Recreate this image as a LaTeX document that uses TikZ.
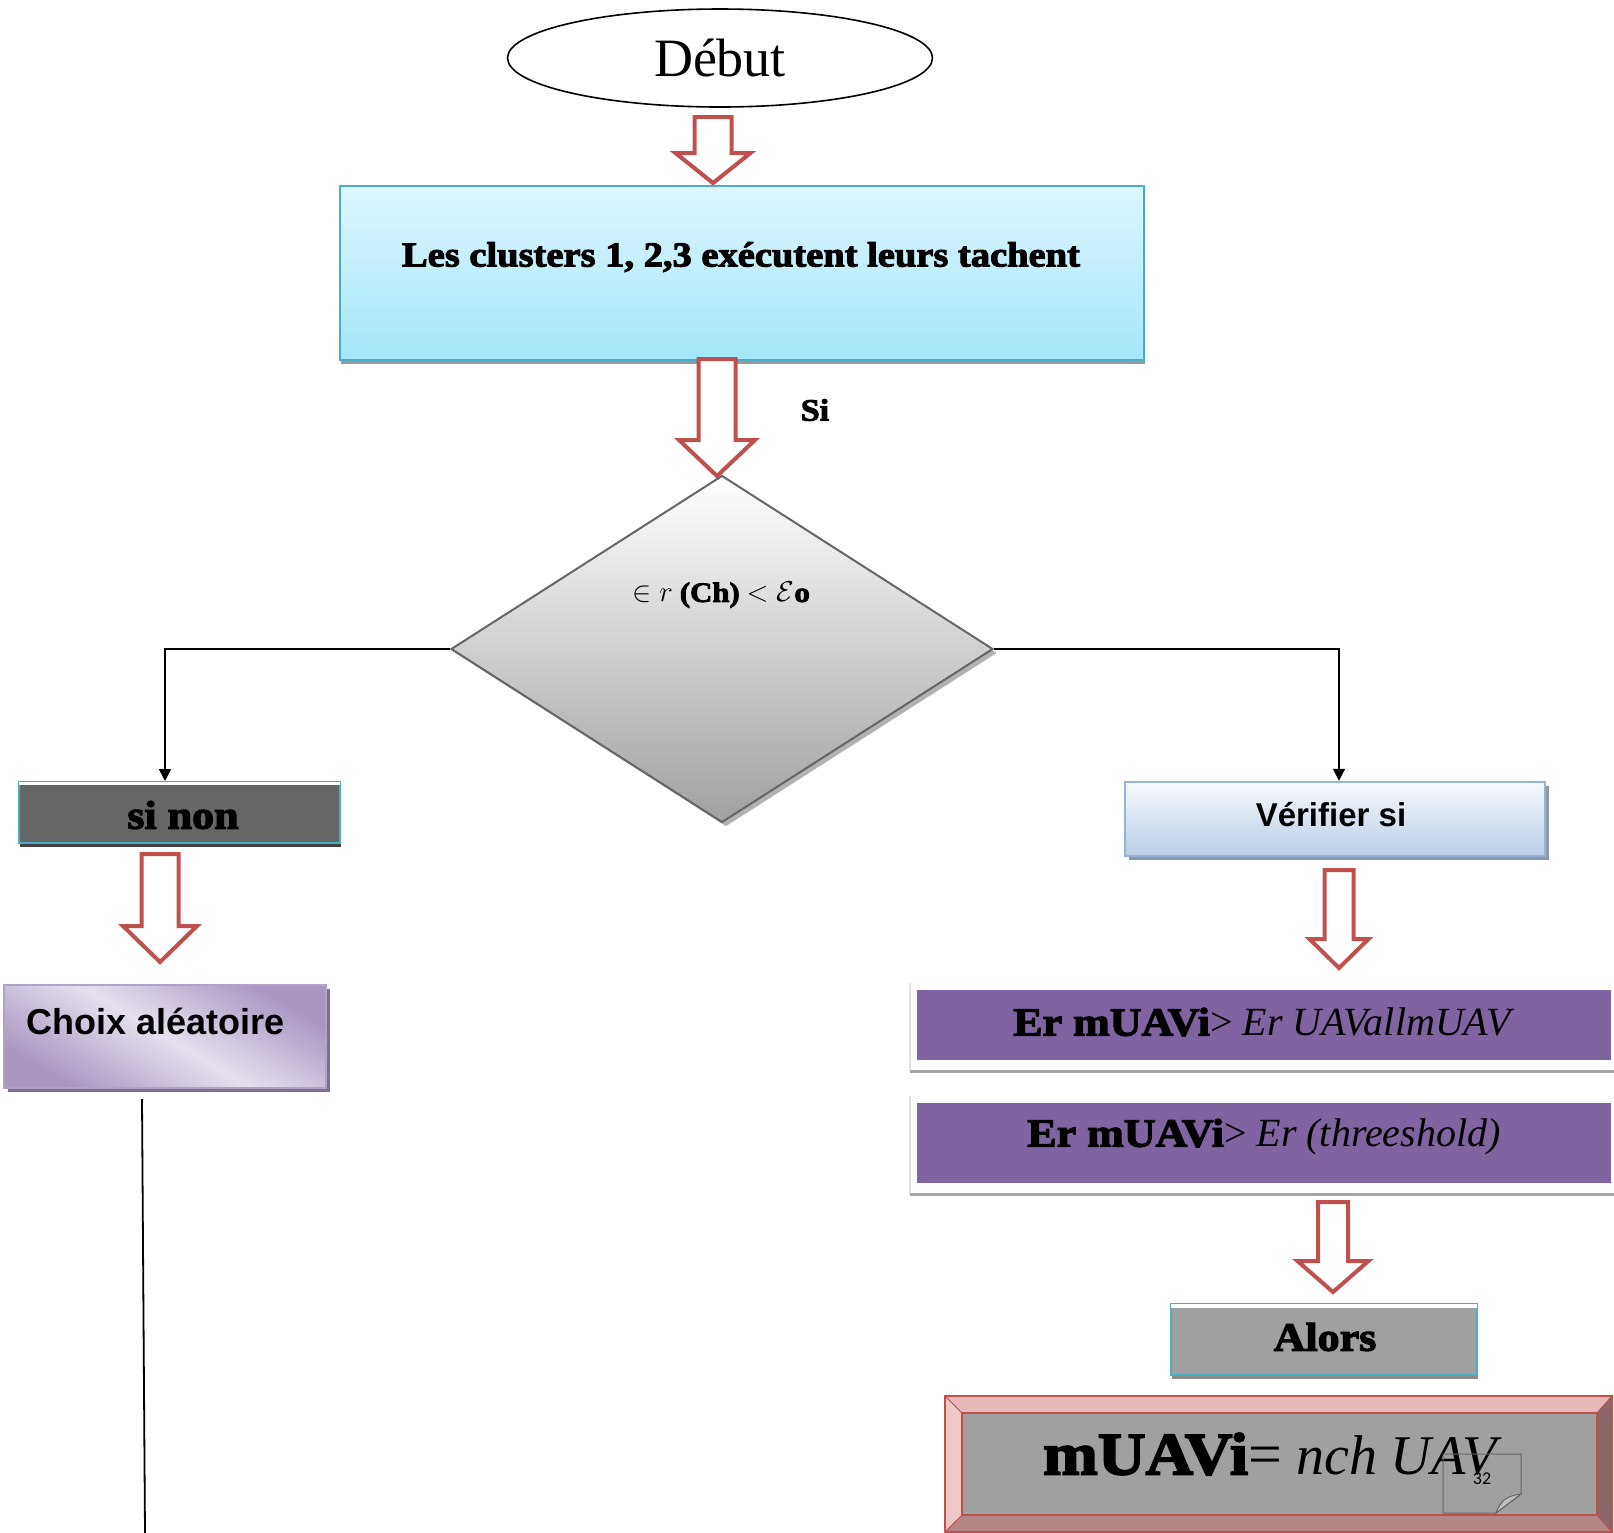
\documentclass[tikz,border=0pt]{standalone}
\usepackage{fontspec}
\usetikzlibrary{shapes.geometric,shadows,arrows.meta,calc}
\setmainfont{Liberation Serif}
\newfontfamily\cooper[FakeBold=3,FakeStretch=1.1]{Liberation Serif Bold}
\newfontfamily\arialb{Liberation Sans Bold}
\newfontfamily\mitfont{Liberation Serif Italic}
\newfontfamily\calib{Carlito}
\definecolor{redA}{HTML}{C0504D}
\definecolor{tealB}{HTML}{4BACC6}
\definecolor{cyanT}{HTML}{DDF6FD}
\definecolor{cyanB}{HTML}{A3E7FA}
\definecolor{purp}{HTML}{8064A2}
\definecolor{lav}{HTML}{A895C0}
\definecolor{lavB}{HTML}{B3A2C7}
\definecolor{lavL}{HTML}{E6E0EE}
\definecolor{blueB}{HTML}{95B3D7}
\definecolor{blueT}{HTML}{F7F9FC}
\definecolor{blueF}{HTML}{B9CDE5}
\definecolor{grayF}{HTML}{A0A0A0}
\definecolor{darkF}{HTML}{666666}
\definecolor{pinkT}{HTML}{E6B9B8}
\definecolor{pinkL}{HTML}{EDC8C7}
\definecolor{brownR}{HTML}{8B6767}
\definecolor{brownB}{HTML}{B38584}
\newcommand{\blockarr}[6]{\draw[barrow] ({#1-#3},#2) -- ({#1+#3},#2) -- ({#1+#3},#5) -- ({#1+#4},#5) -- (#1,#6) -- ({#1-#4},#5) -- ({#1-#3},#5) -- cycle;}
\begin{document}
\begin{tikzpicture}[x=0.5pt,y=-0.5pt,
  barrow/.style={draw=redA,line width=2pt,fill=white,line join=miter},
  conn/.style={draw=black,line width=0.9pt,-{Triangle[width=6pt,length=6pt]}},
  box/.style={rectangle,inner sep=0pt},
  plain/.style={inner sep=0pt}]
\useasboundingbox (0,0) rectangle (1614,1533);

% Debut
\node[ellipse,draw,line width=0.8pt,minimum width=212.5pt,minimum height=49pt,inner sep=0pt] (debut) at (720,58) {\fontsize{27}{30}\selectfont Début};
\blockarr{713}{117}{18.5}{37.5}{153}{183}

% clusters
\node[box,draw=tealB,line width=1pt,top color=cyanT,bottom color=cyanB,minimum width=402pt,minimum height=87pt,
  drop shadow={shadow xshift=0.5pt,shadow yshift=-2pt,fill=black!40,opacity=1}] (clusters) at (742,273) {};
\node[plain] (clusterstxt) at (741,257) {\cooper\fontsize{17.5}{20}\selectfont Les clusters 1, 2,3 exécutent leurs tachent};
\blockarr{717}{359}{18.5}{38}{440}{476}
\node[plain] (si) at (815,410) {\cooper\fontsize{15.5}{18}\selectfont Si};

% diamond
\node[diamond,draw=black!60,line width=1pt,top color=white,bottom color=grayF,minimum width=271pt,minimum height=173.5pt,inner sep=0pt,
  drop shadow={shadow xshift=2pt,shadow yshift=-2pt,fill=black!30,opacity=1}] (dia) at (722,649) {};
\node[plain] (diatxt) at (721,595) {\fontsize{14}{16}\selectfont $\in r$ {\cooper (Ch)} $<\mathcal{E}${\cooper o}};

% si non
\node[box,draw=tealB,line width=1pt,fill=darkF,minimum width=160.5pt,minimum height=30.5pt,
  drop shadow={shadow xshift=0.5pt,shadow yshift=-2pt,fill=black!75,opacity=1}] (sinon) at (179.5,812.5) {};
\fill[white] ([xshift=0.5pt,yshift=-0.5pt]sinon.north west) rectangle ([xshift=-0.5pt,yshift=-2pt]sinon.north east);
\node[plain] (sinontxt) at (183,815) {\cooper\fontsize{20}{23}\selectfont si non};
\blockarr{160}{854}{18.5}{37}{926}{962}

% choix
\node[box,draw=lavB,line width=0.8pt,left color=lav,right color=lav,middle color=lavL,shading angle=-31,minimum width=161pt,minimum height=51.5pt,
  drop shadow={shadow xshift=2pt,shadow yshift=-2pt,fill=lavB!70!black,opacity=1}] (choix) at (165,1036.5) {};
\node[plain] (choixtxt) at (156,1021) {\arialb\fontsize{18}{21}\selectfont Choix aléatoire};
\coordinate (c1) at (142,1099);
\coordinate (c2) at (145,1533);
\draw[line width=0.9pt] (c1) -- (c2);

% verifier
\node[box,draw=blueB,line width=1.2pt,top color=blueT,bottom color=blueF,minimum width=210pt,minimum height=37pt,
  drop shadow={shadow xshift=2pt,shadow yshift=-2pt,fill=blueB!60!black!70,opacity=1}] (verif) at (1335,819) {};
\node[plain] (veriftxt) at (1331,815) {\arialb\fontsize{16.5}{19}\selectfont Vérifier si};
\blockarr{1339}{870}{14.5}{29.5}{939}{968}

% connectors
\draw[conn] (dia.west) -| ([xshift=-7.25pt]sinon.north);
\draw[conn] (dia.east) -| ([xshift=2pt]verif.north);

% purple boxes
\draw[black!12,line width=0.6pt] (910,983) -- (910,1071);
\draw[black!12,line width=0.6pt] (910,1096) -- (910,1194);
\node[box,fill=purp,minimum width=347pt,minimum height=35pt] (er1) at (1264,1025) {};
\node[plain] (er1txt) at (1262,1022) {\fontsize{20}{23}\selectfont{\cooper Er mUAVi}> {\mitfont Er UAVallmUAV}};
\draw[black!35,line width=1.5pt] (910,1071) -- (1614,1071);
\node[box,fill=purp,minimum width=347pt,minimum height=40pt] (er2) at (1264,1143) {};
\node[plain] (er2txt) at (1264,1137) {\fontsize{20}{23}\selectfont{\cooper Er mUAVi}> {\mitfont Er (threeshold)}};
\draw[black!35,line width=1.5pt] (910,1194) -- (1614,1194);
\blockarr{1333}{1202}{15}{35.5}{1261}{1292}

% alors
\node[box,draw=tealB,line width=1pt,fill=grayF,minimum width=153pt,minimum height=35.5pt,
  drop shadow={shadow xshift=0.5pt,shadow yshift=-2pt,fill=black!45,opacity=1}] (alors) at (1324,1339.5) {};
\fill[white] ([xshift=0.5pt,yshift=-0.5pt]alors.north west) rectangle ([xshift=-0.5pt,yshift=-2.5pt]alors.north east);
\node[plain] (alorstxt) at (1325,1337) {\cooper\fontsize{20}{23}\selectfont Alors};

% final bevel box
\fill[pinkT] (945,1396) -- (1612,1396) -- (1597,1413) -- (962,1413) -- cycle;
\fill[pinkL] (945,1396) -- (962,1413) -- (962,1515) -- (945,1532) -- cycle;
\fill[brownR] (1612,1396) -- (1612,1532) -- (1597,1515) -- (1597,1413) -- cycle;
\fill[brownB] (945,1532) -- (962,1515) -- (1597,1515) -- (1612,1532) -- cycle;
\draw[redA,line width=0.5pt] (945,1396) -- (962,1413) (1612,1396) -- (1597,1413) (945,1532) -- (962,1515) (1612,1532) -- (1597,1515);
\node[box,fill=grayF,draw=redA,line width=0.6pt,minimum width=317.5pt,minimum height=51pt] (final) at (1279.5,1464) {};
\draw[redA,line width=1.2pt] (945,1396) rectangle (1612,1532);
\node[plain] (finaltxt) at (1270,1454) {\fontsize{28}{32}\selectfont{\cooper\fontsize{30}{34}\selectfont mUAVi}{\fontsize{30}{34}\selectfont=} {\mitfont nch UAV}};

% page note
\draw[black!60,line width=0.5pt] (1443,1454) -- (1521,1454) -- (1521,1494) -- (1496,1513) -- (1443,1513) -- cycle;
\draw[black!60,line width=0.5pt,fill=black!25] (1521,1494) .. controls (1505,1496) and (1500,1502) .. (1496,1513) -- cycle;
\node[plain] (pagenum) at (1482,1479) {\calib\fontsize{9}{11}\selectfont 32};
\end{tikzpicture}
\end{document}
